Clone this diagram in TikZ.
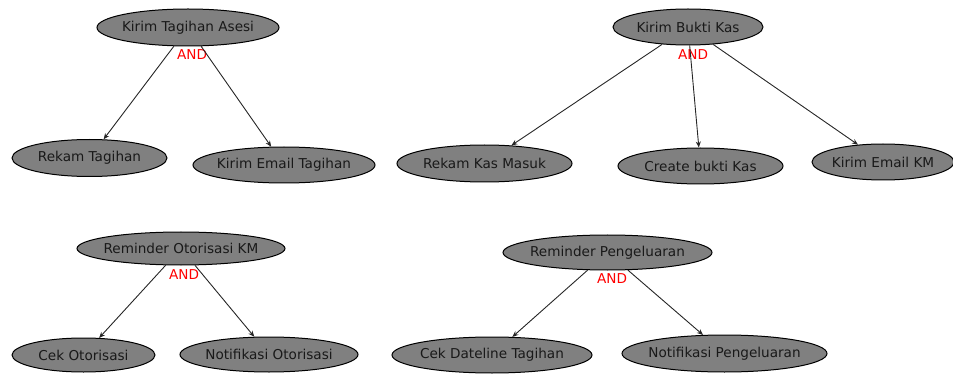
\documentclass[tikz,border=0pt]{standalone}
\usepackage{fontspec}
\setmainfont{DejaVu Sans}
\usetikzlibrary{shapes.geometric,arrows.meta}
\definecolor{nodefill}{RGB}{128,128,128}
\definecolor{andred}{RGB}{255,0,0}
\newcommand{\mz}[1]{\makebox[0pt]{#1}}
\begin{document}
\begin{tikzpicture}[x=1pt,y=-1pt,
  goal/.style={ellipse, draw=black, fill=nodefill, inner sep=0pt, line width=1pt,
    font=\fontsize{13.6}{15}\selectfont, text=black!90},
  andlbl/.style={text=andred, inner sep=0pt, font=\fontsize{13.6}{15}\selectfont},
  link/.style={draw=black!85, line width=0.9pt, -{Stealth[length=6pt,width=5pt]}}]
\useasboundingbox (0,0) rectangle (953,374);
% group 1
\node[goal, minimum width=182, minimum height=37] (kta) at (188,27.5) {\mz{Kirim Tagihan Asesi}};
\node[andlbl] (and1) at (192,55) {AND};
\node[goal, minimum width=155, minimum height=37] (rt) at (89.5,158) {\mz{Rekam Tagihan}};
\node[goal, minimum width=182, minimum height=36] (ket) at (284,165) {\mz{Kirim Email Tagihan}};
\draw[link] (kta) -- (rt);
\draw[link] (kta) -- (ket);
% group 2
\node[goal, minimum width=150, minimum height=36] (kbk) at (688,27) {\mz{Kirim Bukti Kas}};
\node[andlbl] (and2) at (693,55) {AND};
\node[goal, minimum width=175, minimum height=37] (rkm) at (484.5,163.5) {\mz{Rekam Kas Masuk}};
\node[goal, minimum width=165, minimum height=36] (cbk) at (700.5,166) {\mz{Create bukti Kas}};
\node[goal, minimum width=142, minimum height=36] (kekm) at (883,162) {\mz{Kirim Email KM}};
\draw[link] (kbk) -- (rkm);
\draw[link] (kbk) -- (cbk);
\draw[link] (kbk) -- (kekm);
% group 3
\node[goal, minimum width=208, minimum height=33] (rok) at (181,248.5) {\mz{Reminder Otorisasi KM}};
\node[andlbl] (and3) at (184,275) {AND};
\node[goal, minimum width=143, minimum height=34] (co) at (83.5,355) {\mz{Cek Otorisasi}};
\node[goal, minimum width=178, minimum height=35] (no) at (269,354.5) {\mz{Notifikasi Otorisasi}};
\draw[link] (rok) -- (co);
\draw[link] (rok) -- (no);
% group 4
\node[goal, minimum width=209, minimum height=35] (rp) at (607.5,252.5) {\mz{Reminder Pengeluaran}};
\node[andlbl] (and4) at (612,279) {AND};
\node[goal, minimum width=200, minimum height=36] (cdt) at (492,355) {\mz{Cek Dateline Tagihan}};
\node[goal, minimum width=205, minimum height=37] (np) at (724.5,353.5) {\mz{Notifikasi Pengeluaran}};
\draw[link] (rp) -- (cdt);
\draw[link] (rp) -- (np);
\end{tikzpicture}
\end{document}
